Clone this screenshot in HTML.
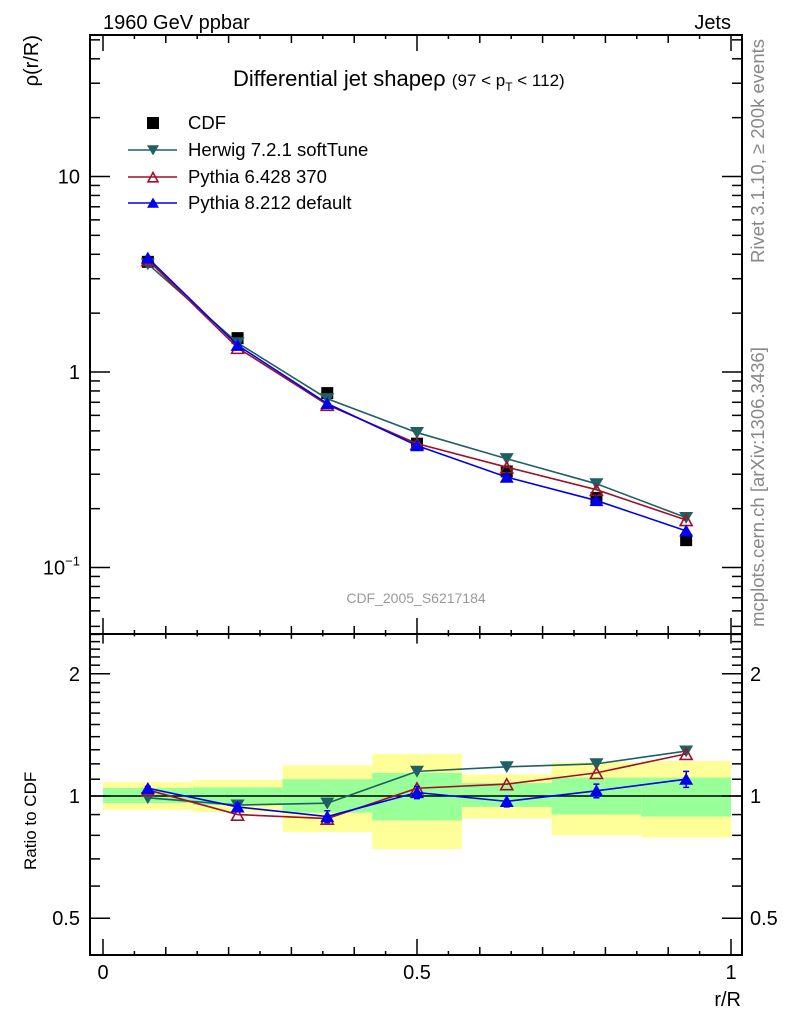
<!DOCTYPE html>
<html><head><meta charset="utf-8"><style>
html,body{margin:0;padding:0;background:#fff;width:786px;height:1024px;overflow:hidden;}
svg{display:block;font-family:"Liberation Sans",sans-serif;}
</style></head><body>
<svg id="c" width="786" height="1024" viewBox="0 0 786 1024" xmlns="http://www.w3.org/2000/svg">
<g id="bands"></g>
<g id="grid"></g>
<g id="marks"></g>
<text x="103" y="29" font-size="20">1960 GeV ppbar</text>
<text x="731" y="29" font-size="20" text-anchor="end">Jets</text>
<text x="233" y="86" font-size="22">Differential jet shapeρ <tspan font-size="17">(97 &lt; p</tspan><tspan font-size="12" dy="5">T</tspan><tspan font-size="17" dy="-5"> &lt; 112)</tspan></text>
<text transform="translate(38,35) rotate(-90)" font-size="20" text-anchor="end">ρ(r/R)</text>
<text transform="translate(36,870) rotate(-90)" font-size="17">Ratio to CDF</text>
<text x="741" y="1006" font-size="20" text-anchor="end">r/R</text>
<text transform="translate(764,151) rotate(-90)" font-size="18.5" fill="#888" text-anchor="middle">Rivet 3.1.10, ≥ 200k events</text>
<text transform="translate(764,487) rotate(-90)" font-size="18.5" fill="#888" text-anchor="middle">mcplots.cern.ch [arXiv:1306.3436]</text>
<text x="416" y="603" font-size="14" fill="#999" text-anchor="middle">CDF_2005_S6217184</text>
<g id="legend"></g>
</svg>
<script>
const categories=[0.0714,0.2143,0.3571,0.5,0.6429,0.7857,0.9286];
const binEdges=[0,0.1429,0.2857,0.4286,0.5714,0.7143,0.8571,1];
const cdfVals=[3.66,1.49,0.78,0.43,0.31,0.227,0.138];
const herwigVals=[3.57,1.41,0.73,0.49,0.36,0.268,0.18];
const py6Vals=[3.74,1.33,0.68,0.43,0.326,0.25,0.175];
const py8Vals=[3.83,1.37,0.69,0.42,0.29,0.22,0.154];
const herwigRatio=[0.99,0.95,0.96,1.15,1.18,1.2,1.29];
const py6Ratio=[1.035,0.90,0.88,1.045,1.07,1.14,1.27];
const py8Ratio=[1.045,0.94,0.89,1.02,0.97,1.03,1.10];
const py8RatioErr=[0.01,0.02,0.03,0.035,0.03,0.04,0.05];
const yellowHi=[1.083,1.095,1.19,1.27,1.13,1.21,1.22];
const yellowLo=[0.924,0.913,0.815,0.74,0.88,0.80,0.79];
const greenHi=[1.046,1.05,1.10,1.14,1.076,1.11,1.11];
const greenLo=[0.961,0.95,0.91,0.87,0.94,0.90,0.89];
const xTickLabels=["0","0.5","1"];
const ratioTickLabels=["0.5","1","2"];

const NS="http://www.w3.org/2000/svg";
const L=90,R=742,T=35,MID=634,B=955;
const X=v=>103+v*628;
const Y=v=>372-Math.log10(v)*195.5;
const YR=v=>796-Math.log10(v)*406;
function mk(p,tag,attrs){const e=document.createElementNS(NS,tag);for(const k in attrs)e.setAttribute(k,attrs[k]);p.appendChild(e);return e;}
const bands=document.getElementById('bands'),grid=document.getElementById('grid'),marks=document.getElementById('marks'),leg=document.getElementById('legend');

for(let i=0;i<categories.length;i++){
  let r=mk(bands,'rect',{x:X(binEdges[i]),y:YR(yellowHi[i]),width:X(binEdges[i+1])-X(binEdges[i]),height:YR(yellowLo[i])-YR(yellowHi[i]),fill:'#ffff99'});
  
  
  let g=mk(bands,'rect',{x:X(binEdges[i]),y:YR(greenHi[i]),width:X(binEdges[i+1])-X(binEdges[i]),height:YR(greenLo[i])-YR(greenHi[i]),fill:'#99ff99'});
  
  
}
mk(grid,'rect',{x:L,y:T,width:R-L,height:B-T,fill:'none',stroke:'#000','stroke-width':2});
mk(grid,'line',{x1:L,y1:MID,x2:R,y2:MID,stroke:'#000','stroke-width':2});
mk(grid,'line',{x1:L,y1:YR(1),x2:R,y2:YR(1),stroke:'#000','stroke-width':1.5});
for(let d=-2;d<=1;d++)for(let m=1;m<=9;m++){const v=m*Math.pow(10,d);const y=Y(v);if(y<T||y>MID)continue;const len=m==1?20:10;
  mk(grid,'line',{x1:L,y1:y,x2:L+len,y2:y,stroke:'#000','stroke-width':1.5});mk(grid,'line',{x1:R,y1:y,x2:R-len,y2:y,stroke:'#000','stroke-width':1.5});}
[[10,"10"],[1,"1"]].forEach(([v,t])=>{mk(grid,'text',{x:80,y:Y(v)+7,'font-size':20,'text-anchor':'end'}).textContent=t;});
let tl=mk(grid,'text',{x:80,y:Y(0.1)+7,'font-size':20,'text-anchor':'end'});tl.innerHTML='10<tspan font-size="13" dy="-9">−1</tspan>';
for(let k=4;k<=25;k++){const v=k/10;const y=YR(v);if(y<MID||y>B)continue;const major=(v==0.5||v==1||v==2);const len=major?20:10;
  mk(grid,'line',{x1:L,y1:y,x2:L+len,y2:y,stroke:'#000','stroke-width':1.5});mk(grid,'line',{x1:R,y1:y,x2:R-len,y2:y,stroke:'#000','stroke-width':1.5});}
[0.5,1,2].forEach((v,i)=>{mk(grid,'text',{x:80,y:YR(v)+7,'font-size':20,'text-anchor':'end'}).textContent=ratioTickLabels[i];
  mk(grid,'text',{x:750,y:YR(v)+7,'font-size':20}).textContent=ratioTickLabels[i];});
for(let k=0;k<=20;k++){const v=k/20;const x=X(v);const len=k%10==0?16:(k%2==0?8:4);
  mk(grid,'line',{x1:x,y1:B,x2:x,y2:B-len,stroke:'#000','stroke-width':1.5});
  mk(grid,'line',{x1:x,y1:MID,x2:x,y2:MID-len,stroke:'#000','stroke-width':1.5});
  mk(grid,'line',{x1:x,y1:MID,x2:x,y2:MID+len*0.6,stroke:'#000','stroke-width':1.5});
  mk(grid,'line',{x1:x,y1:T,x2:x,y2:T+len,stroke:'#000','stroke-width':1.5});}
[0,0.5,1].forEach((v,i)=>{mk(grid,'text',{x:X(v),y:979,'font-size':20,'text-anchor':'middle'}).textContent=xTickLabels[i];});

function marker(p,type,x,y,color,s){
  s=s||7;
  if(type=='sq')return mk(p,'rect',{x:x-6,y:y-6,width:12,height:12,fill:color});
  if(type=='down')return mk(p,'polygon',{points:`${x-s},${y-s*0.8} ${x+s},${y-s*0.8} ${x},${y+s*0.9}`,fill:color});
  if(type=='up')return mk(p,'polygon',{points:`${x-s},${y+s*0.8} ${x+s},${y+s*0.8} ${x},${y-s*0.9}`,fill:color});
  if(type=='upo')return mk(p,'polygon',{points:`${x-s+1},${y+s*0.8} ${x+s-1},${y+s*0.8} ${x},${y-s*0.9+1}`,fill:'none',stroke:color,'stroke-width':1.6});
}
function series(vals,yf,color,type,name){
  const g=mk(marks,'g',{});
  
  
  if(type!='sq')mk(g,'polyline',{points:vals.map((v,i)=>X(categories[i])+','+yf(v)).join(' '),fill:'none',stroke:color,'stroke-width':1.6});
  vals.forEach((v,i)=>{const m=marker(g,type,X(categories[i]),yf(v),color);
    
    });
  return g;
}
series(cdfVals,Y,'#000','sq','cdf-data');
series(herwigVals,Y,'#1f6064','down','herwig-series');
series(py6Vals,Y,'#a0102a','upo','pythia6-series');
series(py8Vals,Y,'#0000ee','up','pythia8-series');
series(herwigRatio,YR,'#1f6064','down','herwig-ratio');
series(py6Ratio,YR,'#a0102a','upo','pythia6-ratio');
const g8=series(py8Ratio,YR,'#0000ee','up','pythia8-ratio');
py8Ratio.forEach((v,i)=>{const x=X(categories[i]);
  const e=mk(g8,'path',{d:`M${x},${YR(v+py8RatioErr[i])}V${YR(v-py8RatioErr[i])}M${x-3},${YR(v+py8RatioErr[i])}h6M${x-3},${YR(v-py8RatioErr[i])}h6`,stroke:'#0000ee','stroke-width':1.5,fill:'none'});
  
  });

const entries=[['CDF','#000','sq',123],['Herwig 7.2.1 softTune','#1f6064','down',150],['Pythia 6.428 370','#a0102a','upo',177],['Pythia 8.212 default','#0000ee','up',203]];
entries.forEach(([t,c,ty,y])=>{const g=mk(leg,'g',{});
  
  
  if(ty!='sq')mk(g,'line',{x1:128,y1:y,x2:177,y2:y,stroke:c,'stroke-width':1.6});
  marker(g,ty,153,y,c,6);
  mk(g,'text',{x:188,y:y+6,'font-size':18.5}).textContent=t;});
</script>
</body></html>
